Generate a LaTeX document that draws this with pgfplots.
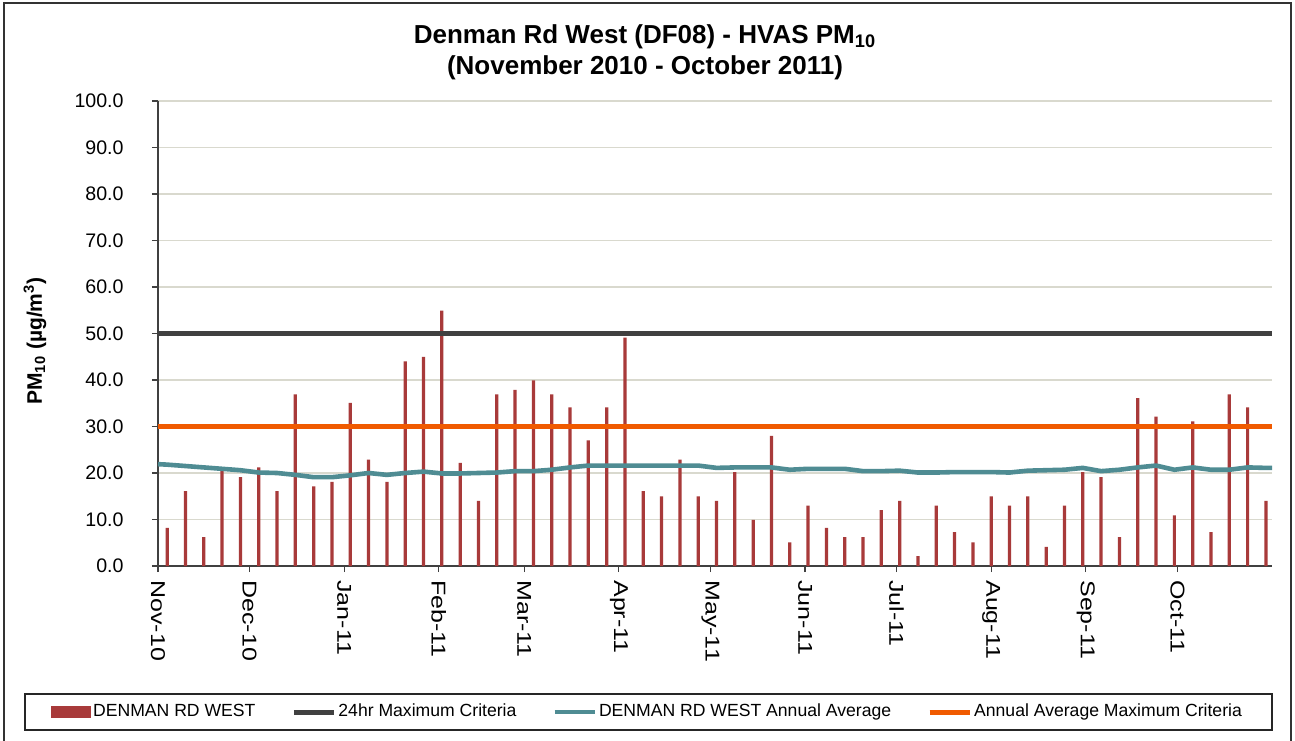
\documentclass[border=0pt]{standalone}
\usepackage{fontspec}
\setmainfont{Liberation Sans}
\usepackage{graphicx}
\usepackage{pgfplots}
\usepackage{pgfplotstable}
\pgfplotsset{compat=1.18}
\definecolor{barred}{HTML}{A83A3A}
\definecolor{critblack}{HTML}{404040}
\definecolor{avgteal}{HTML}{4F8C93}
\definecolor{critorange}{HTML}{F05A00}
\definecolor{gridc}{HTML}{D9D9CE}

% day = days since 1 Nov 2010
\pgfplotstableread{
day pm
3 8.2
9 16.1
15 6.2
21 20.4
27 19.1
33 21.2
39 16.1
45 36.9
51 17.1
57 18.1
63 35.1
69 22.9
75 18.1
81 44.0
87 45.0
93 54.9
99 22.2
105 14.0
111 36.9
117 37.9
123 39.9
129 36.9
135 34.1
141 27.0
147 34.1
153 49.1
159 16.1
165 15.0
171 22.9
177 15.0
183 14.0
189 20.2
195 9.9
201 28.0
207 5.1
213 13.0
219 8.2
225 6.2
231 6.2
237 12.0
243 14.0
249 2.1
255 13.0
261 7.3
267 5.1
273 15.0
279 13.0
285 15.0
291 4.1
297 13.0
303 20.2
309 19.1
315 6.2
321 36.1
327 32.1
333 10.9
339 31.1
345 7.3
351 36.9
357 34.1
363 14.0
}\pmdata

\pgfplotstableread{
day avg
0 21.9
3 21.8
9 21.5
15 21.2
21 20.9
27 20.6
33 20.1
39 20.0
45 19.6
51 19.1
57 19.1
63 19.5
69 20.0
75 19.6
81 20.0
87 20.3
93 19.9
99 19.9
105 20.0
111 20.1
117 20.4
123 20.4
129 20.7
135 21.2
141 21.6
147 21.6
153 21.6
159 21.6
165 21.6
171 21.6
177 21.6
183 21.1
189 21.2
195 21.2
201 21.2
207 20.7
213 20.9
219 20.9
225 20.9
231 20.4
237 20.4
243 20.5
249 20.1
255 20.1
261 20.2
267 20.2
273 20.2
279 20.1
285 20.5
291 20.6
297 20.7
303 21.1
309 20.4
315 20.7
321 21.2
327 21.6
333 20.7
339 21.2
345 20.7
351 20.7
357 21.2
363 21.1
365 21.1
}\avgdata

\begin{document}
\begin{tikzpicture}[x=1pt,y=1pt]
\useasboundingbox (0,0) rectangle (647.5,370);
\fill[white] (0,0) rectangle (647.5,370);
\draw[line width=0.9pt, color=black!80] (2,-5) -- (2,368.5) -- (645.5,368.5) -- (645.5,-5);
\draw[line width=0.9pt, color=black!85] (12.5,5) rectangle (636,23);
\begin{axis}[
  at={(79pt,87pt)}, anchor=south west,
  scale only axis, width=557pt, height=232.5pt,
  xmin=0, xmax=365, ymin=0, ymax=100,
  axis lines*=left,
  axis line style={draw=black!75, line width=0.8pt, -},
  tick align=outside,
  major tick length=3pt,
  tick style={draw=black!75, line width=0.6pt},
  ytick={0,10,...,100},
  xtick={0,30,61,92,120,151,181,212,242,273,304,334},
  xticklabels={\scalebox{1.25}[1]{Nov-10},\scalebox{1.25}[1]{Dec-10},\scalebox{1.25}[1]{Jan-11},\scalebox{1.25}[1]{Feb-11},\scalebox{1.25}[1]{Mar-11},\scalebox{1.25}[1]{Apr-11},\scalebox{1.25}[1]{May-11},\scalebox{1.25}[1]{Jun-11},\scalebox{1.25}[1]{Jul-11},\scalebox{1.25}[1]{Aug-11},\scalebox{1.25}[1]{Sep-11},\scalebox{1.25}[1]{Oct-11}},
  xticklabel style={rotate=-90, anchor=west, inner sep=0pt, font=\fontsize{10}{12}\selectfont},
  xticklabel shift=4pt,
  yticklabel style={inner sep=0pt, font=\fontsize{9.8}{12}\selectfont,
    /pgf/number format/.cd, fixed, fixed zerofill, precision=1, assume math mode=true},
  yticklabel shift=14pt,
  ymajorgrids,
  grid style={draw=gridc, line width=0.8pt},
  ylabel={PM\textsubscript{10} (µg/m\textsuperscript{3})},
  every axis y label/.style={at={(axis description cs:-0.1104,0.484)}, rotate=90, anchor=center, font=\bfseries\fontsize{10.5}{12}\selectfont},
  legend columns=4,
  legend image code/.code={\draw[#1] (0pt,0pt) -- (20pt,0pt);},
  legend style={at={(axis description cs:0.4394,-0.314)}, anchor=center, draw=none, fill=none,
    font=\fontsize{8.8}{10}\selectfont, inner sep=0pt,
    nodes={inner sep=1pt},
    /tikz/every even column/.append style={column sep=17pt}},
]
\addplot[ybar, bar width=1.6pt, bar shift=0pt, fill=barred, draw=none,
  legend image code/.code={\fill[barred] (0pt,-3pt) rectangle (20pt,3pt);}]
  table[x=day, y=pm] {\pmdata};
\addlegendentry{DENMAN RD WEST}
\addplot[critblack, line width=2.5pt] coordinates {(0,50) (365,50)};
\addlegendentry{24hr Maximum Criteria}
\addplot[avgteal, line width=2.3pt, line join=round] table[x=day, y=avg] {\avgdata};
\addlegendentry{DENMAN RD WEST Annual Average}
\addplot[critorange, line width=2.5pt] coordinates {(0,30) (365,30)};
\addlegendentry{Annual Average Maximum Criteria}
\end{axis}
\node[align=center, font=\bfseries\fontsize{13}{15.5}\selectfont] at (322.5,344) {Denman Rd West (DF08) - HVAS PM\textsubscript{10}\\(November 2010 - October 2011)};
\end{tikzpicture}
\end{document}
